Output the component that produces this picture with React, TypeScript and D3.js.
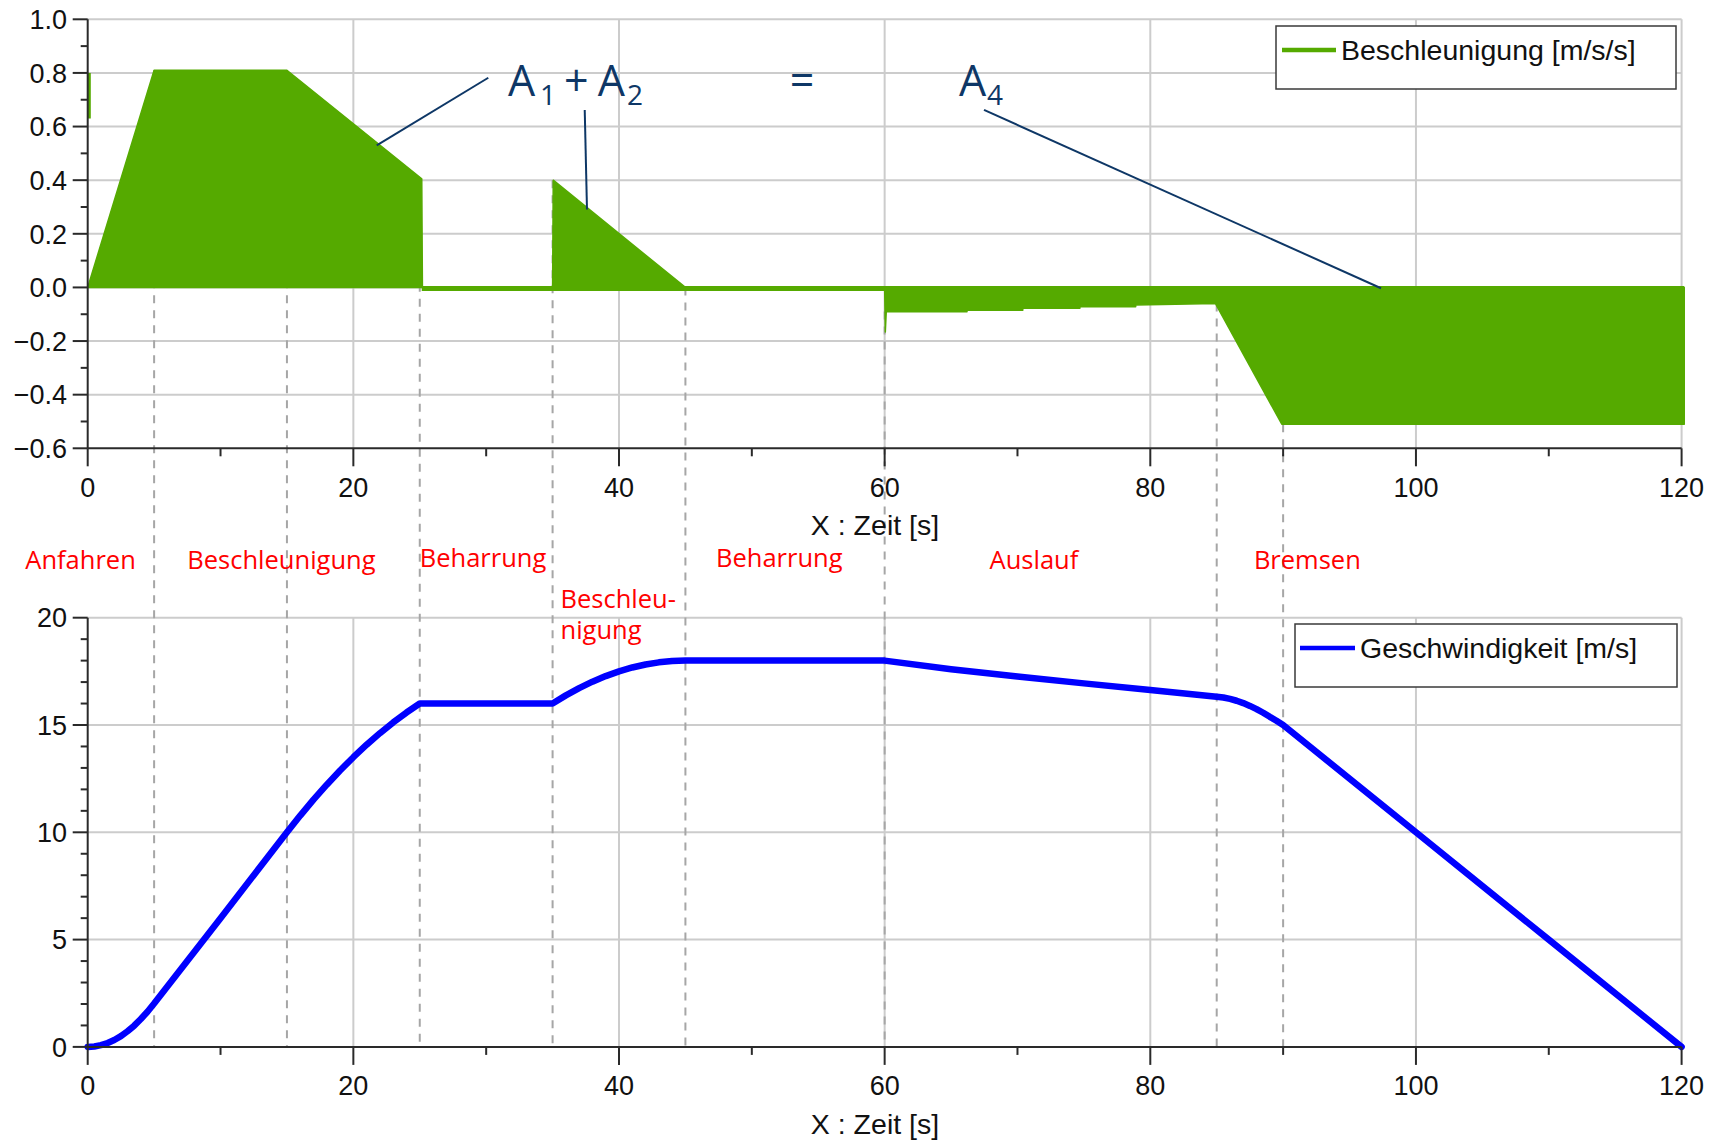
import React from 'react';
import * as d3 from 'd3';

// ---------- data ----------
// acceleration envelope [s] / [m/s/s]
const accelTime = [0, 5, 15, 25.15, 25.2, 35, 35.05, 45, 60, 60.05, 60.12, 66.2, 66.2, 70.4, 70.4, 74.7, 74.7, 78.9, 78.9, 84.9, 89.9, 120.2, 120.2];
const accelValue = [0, 0.81, 0.81, 0.405, 0, 0, 0.4, 0, 0, -0.166, -0.091, -0.091, -0.085, -0.085, -0.078, -0.078, -0.072, -0.072, -0.066, -0.06, -0.51, -0.51, 0];
// thin band around zero (numerical noise)
const bandTime = [25.15, 120.2];
const bandValue = [-0.004, -0.004];
// initial spike at t = 0
const spikeTime = [0.12, 0.12];
const spikeValue = [0.63, 0.8];

// velocity [s] / [m/s]
const velTime = [
  0, 0.5, 1, 1.5, 2, 2.5, 3, 3.5, 4, 4.5, 5,
  10, 15, 16, 17, 18, 19, 20, 21, 22, 23, 24, 25,
  35, 36, 37, 38, 39, 40, 41, 42, 43, 44, 45,
  60, 65, 70, 75, 80, 85, 85.5, 86, 86.5, 87, 87.5, 88, 88.5, 89, 89.5, 90,
  100, 110, 120,
];
const velValue = [
  0, 0.02, 0.08, 0.18, 0.32, 0.5, 0.73, 0.99, 1.3, 1.64, 2.02,
  6.0, 10.0, 10.78, 11.52, 12.22, 12.88, 13.5, 14.08, 14.62, 15.12, 15.58, 16.0,
  16.0, 16.38, 16.72, 17.02, 17.28, 17.5, 17.68, 17.82, 17.92, 17.98, 18.0,
  18.0, 17.6, 17.26, 16.94, 16.63, 16.32, 16.28, 16.215, 16.13, 16.02, 15.89, 15.74, 15.57, 15.38, 15.2, 15.0,
  10.0, 5.0, 0,
];

// phase boundaries and where their dashed lines start in the top chart
const phaseTimes = [5, 15, 25, 35, 45, 60, 85, 90];
const phaseStartAccel = [0.81, 0.81, 0.405, 0.4, 0, -0.09, -0.06, -0.51];

// phase labels
const phaseLabels = ['Anfahren', 'Beschleunigung', 'Beharrung', 'Beschleu-', 'nigung', 'Beharrung', 'Auslauf', 'Bremsen'];
const phaseLabelTime = [-4.7, 7.5, 25.0, 35.6, 35.6, 47.3, 67.9, 87.8];
const phaseLabelLine = [0, 0, 0, 1, 2, 0, 0, 0];

// ticks
const xMajorTicks = [0, 20, 40, 60, 80, 100, 120];
const xMinorTicks = [10, 30, 50, 70, 90, 110];
const accelMajorTicks = [-0.6, -0.4, -0.2, 0.0, 0.2, 0.4, 0.6, 0.8, 1.0];
const accelMinorTicks = [-0.5, -0.3, -0.1, 0.1, 0.3, 0.5, 0.7, 0.9];
const velMajorTicks = [0, 5, 10, 15, 20];
const velMinorTicks = [1, 2, 3, 4, 6, 7, 8, 9, 11, 12, 13, 14, 16, 17, 18, 19];

const xTitle = 'X : Zeit [s]';
const accelLegend = 'Beschleunigung [m/s/s]';
const velLegend = 'Geschwindigkeit [m/s]';

// annotation "A1 + A2 = A4" (data coords of top chart)
const annoLines = [
  { t0: 30.16, a0: 0.782, t1: 21.76, a1: 0.53 },
  { t0: 37.42, a0: 0.662, t1: 37.59, a1: 0.291 },
  { t0: 67.48, a0: 0.662, t1: 97.37, a1: -0.003 },
];

// ---------- layout ----------
const W = 1734;
const H = 1140;
const PX0 = 87.7;
const PX1 = 1681.6;

const GREEN = '#55aa00';
const BLUE = '#0000ff';
const NAVY = '#0e3766';
const GRID = '#cccccc';
const AXIS = '#2a2a2a';
const DASH = '#a6a6a6';
const TICK_FONT = "'Liberation Sans', Arial, sans-serif";
const LABEL_FONT = "'Open Sans', 'Noto Sans', sans-serif";

export default function App() {
  const x = d3.scaleLinear().domain([0, 120]).range([PX0, PX1]);
  const yA = d3.scaleLinear().domain([-0.6, 1.0]).range([448.3, 19.3]);
  const yV = d3.scaleLinear().domain([0, 20]).range([1046.9, 617.7]);

  const accelPts = accelTime.map((t, i) => [t, accelValue[i]] as [number, number]);
  const area = d3
    .area<[number, number]>()
    .x((d) => x(d[0]))
    .y0(yA(0))
    .y1((d) => yA(d[1]));
  const aLine = d3
    .line<[number, number]>()
    .x((d) => x(d[0]))
    .y((d) => yA(d[1]));
  const vLine = d3
    .line<[number, number]>()
    .x((d) => x(d[0]))
    .y((d) => yV(d[1]));

  const bandPts = bandTime.map((t, i) => [t, bandValue[i]] as [number, number]);
  const spikePts = spikeTime.map((t, i) => [t, spikeValue[i]] as [number, number]);
  const velPts = velTime.map((t, i) => [t, velValue[i]] as [number, number]);

  const fmt1 = d3.format('.1f');
  const fmt0 = d3.format('d');

  const renderXAxis = (y0: number, key: string) => (
    <g key={key}>
      <line x1={PX0} x2={PX1} y1={y0} y2={y0} stroke={AXIS} strokeWidth={2} />
      {xMajorTicks.map((t) => (
        <line key={'M' + t} x1={x(t)} x2={x(t)} y1={y0} y2={y0 + 18} stroke={AXIS} strokeWidth={2} />
      ))}
      {xMinorTicks.map((t) => (
        <line key={'m' + t} x1={x(t)} x2={x(t)} y1={y0} y2={y0 + 8} stroke={AXIS} strokeWidth={2} />
      ))}
      {xMajorTicks.map((t) => (
        <text key={'l' + t} x={x(t)} y={y0 + 48.5} textAnchor="middle" fontFamily={TICK_FONT} fontSize={27} fill="#111">
          {fmt0(t)}
        </text>
      ))}
      <text x={875} y={y0 + 87} textAnchor="middle" fontFamily={TICK_FONT} fontSize={28.5} fill="#111">
        {xTitle}
      </text>
    </g>
  );

  const renderYAxis = (
    scale: d3.ScaleLinear<number, number>,
    major: number[],
    minor: number[],
    fmt: (n: number) => string,
    key: string
  ) => {
    const [d0, d1] = scale.domain();
    return (
      <g key={key}>
        <line x1={PX0} x2={PX0} y1={scale(d1)} y2={scale(d0)} stroke={AXIS} strokeWidth={2} />
        {major.map((v) => (
          <line key={'M' + v} x1={PX0 - 15} x2={PX0} y1={scale(v)} y2={scale(v)} stroke={AXIS} strokeWidth={2} />
        ))}
        {minor.map((v) => (
          <line key={'m' + v} x1={PX0 - 7} x2={PX0} y1={scale(v)} y2={scale(v)} stroke={AXIS} strokeWidth={2} />
        ))}
        {major.map((v) => (
          <text
            key={'l' + v}
            x={67}
            y={scale(v)}
            dy="0.36em"
            textAnchor="end"
            fontFamily={TICK_FONT}
            fontSize={27}
            fill="#111"
          >
            {fmt(v)}
          </text>
        ))}
      </g>
    );
  };

  const renderGrid = (scale: d3.ScaleLinear<number, number>, major: number[], key: string) => {
    const [d0, d1] = scale.domain();
    return (
      <g key={key} stroke={GRID} strokeWidth={2}>
        {major
          .filter((v) => v !== d0)
          .map((v) => (
            <line key={'h' + v} x1={PX0} x2={PX1} y1={scale(v)} y2={scale(v)} />
          ))}
        {xMajorTicks
          .filter((t) => t !== 0)
          .map((t) => (
            <line key={'v' + t} x1={x(t)} x2={x(t)} y1={scale(d1)} y2={scale(d0)} />
          ))}
      </g>
    );
  };

  const labelBaseline = [568.5, 608.3, 639.3];

  return (
    <svg
      width={W}
      height={H}
      viewBox={`0 0 ${W} ${H}`}
      style={{ position: 'absolute', left: 0, top: 0, background: '#fff' }}
    >
      <rect x={0} y={0} width={W} height={H} fill="#fff" />
      {renderGrid(yA, accelMajorTicks, 'gA')}
      {renderGrid(yV, velMajorTicks, 'gV')}

      {/* phase boundaries */}
      <g stroke={DASH} strokeWidth={2} strokeDasharray="8 7">
        {phaseTimes.map((t, i) => (
          <line key={t} x1={x(t)} x2={x(t)} y1={yA(phaseStartAccel[i])} y2={yV(0)} />
        ))}
      </g>

      {/* acceleration */}
      <path d={area(accelPts) || ''} fill={GREEN} stroke={GREEN} strokeWidth={1.5} strokeLinejoin="round" />
      <path d={aLine(bandPts) || ''} fill="none" stroke={GREEN} strokeWidth={5} />
      <path d={aLine(spikePts) || ''} fill="none" stroke={GREEN} strokeWidth={3} />

      {/* velocity */}
      <path
        d={vLine(velPts) || ''}
        fill="none"
        stroke={BLUE}
        strokeWidth={6.5}
        strokeLinejoin="round"
        strokeLinecap="round"
      />

      {renderYAxis(yA, accelMajorTicks, accelMinorTicks, fmt1, 'yA')}
      {renderYAxis(yV, velMajorTicks, velMinorTicks, fmt0, 'yV')}
      {renderXAxis(yA(-0.6), 'xA')}
      {renderXAxis(yV(0), 'xV')}

      {/* legends */}
      <g>
        <rect x={1276} y={26} width={400} height={63} fill="#fff" stroke="#3a3a3a" strokeWidth={1.5} />
        <line x1={1282} x2={1336} y1={50} y2={50} stroke={GREEN} strokeWidth={4.5} />
        <text x={1341} y={60} fontFamily={TICK_FONT} fontSize={28.5} fill="#111">
          {accelLegend}
        </text>
      </g>
      <g>
        <rect x={1295} y={624} width={382} height={63} fill="#fff" stroke="#3a3a3a" strokeWidth={1.5} />
        <line x1={1300} x2={1355} y1={648} y2={648} stroke={BLUE} strokeWidth={4.5} />
        <text x={1360} y={658} fontFamily={TICK_FONT} fontSize={28.5} fill="#111">
          {velLegend}
        </text>
      </g>

      {/* phase labels */}
      {phaseLabels.map((s, i) => (
        <text
          key={i}
          x={x(phaseLabelTime[i])}
          y={labelBaseline[phaseLabelLine[i]] - (s === 'Beharrung' ? 1.8 : 0)}
          fontFamily={LABEL_FONT}
          fontSize={25.5}
          fill="#ff0000"
        >
          {s}
        </text>
      ))}

      {/* annotation */}
      <g stroke={NAVY} strokeWidth={2}>
        {annoLines.map((l, i) => (
          <line key={i} x1={x(l.t0)} y1={yA(l.a0)} x2={x(l.t1)} y2={yA(l.a1)} />
        ))}
      </g>
      <g fontFamily={LABEL_FONT} fill={NAVY}>
        <text x={x(31.64)} y={yA(0.715)} fontSize={43}>A</text>
        <text x={x(34.05)} y={yA(0.68)} fontSize={28}>1</text>
        <text x={x(35.85)} y={yA(0.715)} fontSize={43}>+</text>
        <text x={x(38.4)} y={yA(0.715)} fontSize={43}>A</text>
        <text x={x(40.6)} y={yA(0.68)} fontSize={28}>2</text>
        <text x={x(52.85)} y={yA(0.715)} fontSize={43}>=</text>
        <text x={x(65.6)} y={yA(0.715)} fontSize={43}>A</text>
        <text x={x(67.7)} y={yA(0.68)} fontSize={28}>4</text>
      </g>
    </svg>
  );
}
